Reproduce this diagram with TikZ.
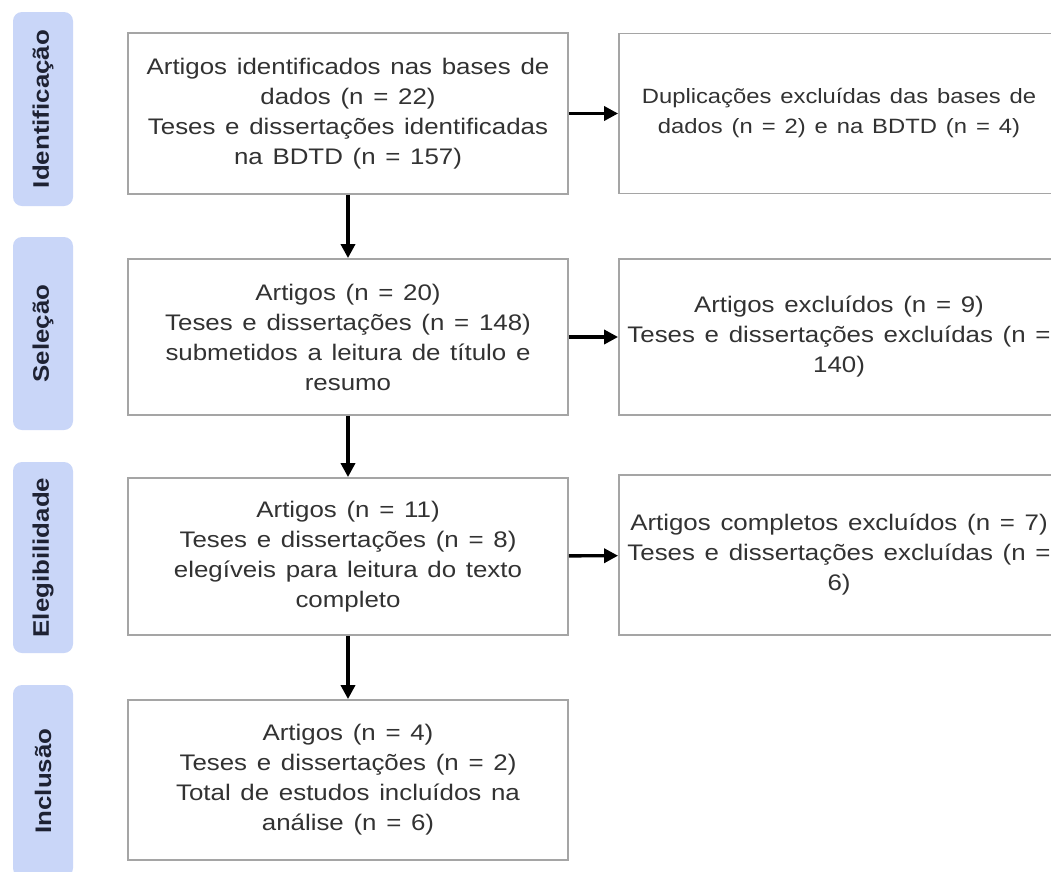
\documentclass[tikz,border=0pt]{standalone}
\usepackage{fontspec}
\setmainfont{Liberation Sans}[FakeStretch=1.15,WordSpace=1.35]
\usepackage{xcolor}
\usetikzlibrary{arrows.meta}

\definecolor{etapaazul}{RGB}{201,214,248}
\definecolor{etapatexto}{RGB}{30,34,51}
\definecolor{bordacinza}{RGB}{165,165,165}
\definecolor{textocinza}{RGB}{50,50,50}

\begin{document}
\begin{tikzpicture}
  [x=1pt,y=-1pt,
   etapa/.style={rotate=90,fill=etapaazul,rounded corners=9pt,minimum height=60pt,
     inner sep=0pt,text=etapatexto,font=\fontsize{22.5}{26}\selectfont\bfseries},
   caixa/.style={draw=bordacinza,line width=1.8pt,fill=white,minimum width=440pt,
     align=center,text=textocinza,font=\fontsize{22.5}{30}\selectfont},
   seta/.style={line width=3.4pt,-{Triangle[length=14pt,width=14pt]}}]
  \clip (0,0) rectangle (1051,871);
  \fill[white] (0,0) rectangle (1051,871);

  % etapas
  \node[etapa,minimum width=194pt] (id) at (43,109) {Identificação};
  \node[etapa,minimum width=193pt] (sel) at (43,333.5) {Seleção};
  \node[etapa,minimum width=191pt] (ele) at (43,557.5) {Elegibilidade};
  \node[etapa,minimum width=192pt] (inc) at (43,781) {Inclusão};

  % coluna principal
  \node[caixa,minimum height=161pt] (b1) at (348,113.5)
    {Artigos identificados nas bases de\\ dados (n = 22)\\ Teses e dissertações identificadas\\ na BDTD (n = 157)};
  \node[caixa,minimum height=156pt] (b2) at (348,337)
    {Artigos (n = 20)\\ Teses e dissertações (n = 148)\\ submetidos a leitura de título e\\ resumo};
  \node[caixa,minimum height=157pt] (b3) at (348,556.5)
    {Artigos (n = 11)\\ Teses e dissertações (n = 8)\\ elegíveis para leitura do texto\\ completo};
  \node[caixa,minimum height=160pt] (b4) at (348,780)
    {Artigos (n = 4)\\ Teses e dissertações (n = 2)\\ Total de estudos incluídos na\\ análise (n = 6)};

  % exclusoes
  \node[caixa,minimum height=160pt,font=\fontsize{20.7}{30}\selectfont] (r1) at (839,113.5)
    {Duplicações excluídas das bases de\\ dados (n = 2) e na BDTD (n = 4)};
  \node[caixa,minimum height=156pt] (r2) at (839,337)
    {Artigos excluídos (n = 9)\\ Teses e dissertações excluídas (n =\\ 140)};
  \node[caixa,minimum height=160pt] (r3) at (839,555)
    {Artigos completos excluídos (n = 7)\\ Teses e dissertações excluídas (n =\\ 6)};

  \foreach \from/\to in {b1/b2,b2/b3,b3/b4}
    \draw[seta] (\from) -- (\to);
  \foreach \from/\to in {b1/r1,b2/r2,b3/r3}
    \draw[seta] (\from) -- (\to);

\end{tikzpicture}
\end{document}
